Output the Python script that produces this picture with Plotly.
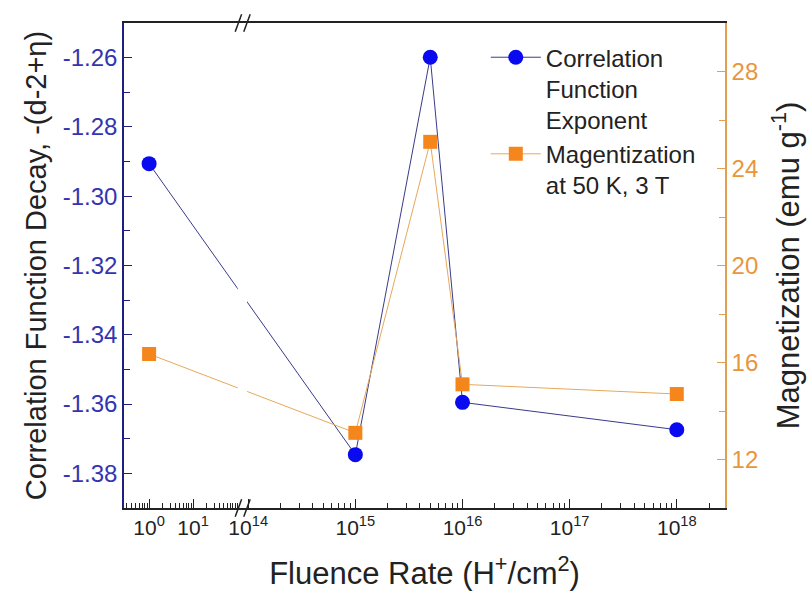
import numpy as np
import plotly.graph_objects as go

# ---------------- data ----------------
fluence = [1.0, 1e15, 5e15, 1e16, 1e18]
corr_exponent = [-1.2906, -1.3746, -1.2599, -1.3595, -1.3674]
magnetization = [16.35, 13.1, 25.1, 15.1, 14.7]
major_tick_exps = [0, 1, 14, 15, 16, 17, 18]
corr_ticks = [-1.38, -1.36, -1.34, -1.32, -1.30, -1.28, -1.26]
mag_ticks = [12, 16, 20, 24, 28]
corr_name = "Correlation<br>Function<br>Exponent"
mag_name = "Magentization<br>at 50 K, 3 T"

# ------------- broken log axis transform -------------
LEFT_SCALE = 0.411      # left segment: decade width relative to right segment
LEFT_OFFSET = -1.925    # position of 10^0 in right-decade units
RIGHT_OFFSET = 15       # 10^15 placed at 0

def xpos(v):
    lg = np.log10(v)
    return LEFT_OFFSET + LEFT_SCALE * lg if lg < 10 else lg - RIGHT_OFFSET

X_MIN = xpos(10 ** -0.57)
X_MAX = xpos(10 ** 18.45)
LEFT_END = xpos(100)
RIGHT_START = xpos(1e14)

major_vals = [xpos(10.0 ** e) for e in major_tick_exps]
major_text = [f"10<sup>{e}</sup>" for e in major_tick_exps]
minor_vals = []
for e in [-1, 0, 1]:
    for m in range(2, 10):
        p = xpos(m * 10.0 ** e)
        if X_MIN <= p <= LEFT_END:
            minor_vals.append(p)
for e in [14, 15, 16, 17, 18]:
    for m in range(2, 10):
        p = xpos(m * 10.0 ** e)
        if RIGHT_START <= p <= X_MAX:
            minor_vals.append(p)
minor_vals.append(xpos(100))

xs = [xpos(v) for v in fluence]

FONT = "Arial, Liberation Sans, sans-serif"
BLUE_AX = "#1f1f80"
BLUE_TXT = "#3434b0"
ORANGE_AX = "#e0a050"
ORANGE_TXT = "#e8963c"

fig = go.Figure()
fig.add_trace(go.Scatter(
    x=xs, y=corr_exponent, name=corr_name, mode="lines+markers",
    line=dict(color="#3a3a8a", width=1),
    marker=dict(symbol="circle", size=15, color="#0a0af0"),
    yaxis="y"))
fig.add_trace(go.Scatter(
    x=xs, y=magnetization, name=mag_name, mode="lines+markers",
    line=dict(color="#e6a85a", width=1),
    marker=dict(symbol="square", size=14, color="#f5861c"),
    yaxis="y2"))

fig.update_layout(
    width=812, height=601,
    margin=dict(l=124, r=87, t=23, b=93),
    plot_bgcolor="white", paper_bgcolor="white",
    font=dict(family=FONT, size=21, color="#222"),
    showlegend=True,
    legend=dict(x=0.602, y=0.975, xanchor="left", yanchor="top",
                bgcolor="rgba(0,0,0,0)", font=dict(size=24, color="#222"),
                valign="top", itemwidth=50, tracegroupgap=0),
    xaxis=dict(
        range=[X_MIN, X_MAX], showgrid=False, zeroline=False,
        showline=True, linecolor="#222", linewidth=1.5, mirror=True,
        tickmode="array", tickvals=major_vals, ticktext=major_text,
        ticks="inside", ticklen=9, tickwidth=1, tickcolor="#222",
        tickfont=dict(size=21, color="#222"),
        minor=dict(tickmode="array", tickvals=minor_vals, ticks="inside",
                   ticklen=5, tickwidth=1, tickcolor="#222"),
        title=dict(text="Fluence Rate (H<sup>+</sup>/cm<sup>2</sup>)",
                   font=dict(size=31, color="#222"), standoff=24),
    ),
    yaxis=dict(
        range=[-1.39, -1.25], showgrid=False, zeroline=False,
        showline=True, linecolor=BLUE_AX, linewidth=1.5,
        tickmode="array", tickvals=corr_ticks,
        ticktext=[f"{v:.2f}" for v in corr_ticks],
        ticks="inside", ticklen=8, tickcolor=BLUE_AX,
        tickfont=dict(size=24, color=BLUE_TXT),
        minor=dict(dtick=0.01, tick0=0, ticks="inside", ticklen=6,
                   tickcolor=BLUE_AX),
        title=dict(text="Correlation Function Decay, -(d-2+η)",
                   font=dict(size=29, color="#222"), standoff=8),
    ),
    yaxis2=dict(
        range=[10, 30], overlaying="y", side="right", showgrid=False,
        zeroline=False, showline=True, linecolor=ORANGE_AX, linewidth=1.5,
        tickmode="array", tickvals=mag_ticks,
        ticks="inside", ticklen=8, tickcolor=ORANGE_AX,
        tickfont=dict(size=24, color=ORANGE_TXT),
        minor=dict(dtick=2, tick0=0, ticks="inside", ticklen=6,
                   tickcolor=ORANGE_AX),
        title=dict(text="Magnetization (emu g<sup>-1</sup>)",
                   font=dict(size=31, color="#222"), standoff=20),
    ),
)

# gap in the data lines across the axis break
fig.add_shape(type="rect", xref="x", yref="paper",
              x0=LEFT_END + 0.005, x1=RIGHT_START - 0.01, y0=0.02, y1=0.985,
              fillcolor="white", line=dict(width=0), layer="above")

# break marks "//" on bottom and top axes
mid = (LEFT_END + RIGHT_START) / 2
for yc in [0.0, 1.0]:
    for dx in [-0.04, 0.04]:
        fig.add_shape(type="line", xref="x", yref="paper",
                      x0=mid + dx - 0.03, x1=mid + dx + 0.03,
                      y0=yc - 0.018, y1=yc + 0.018,
                      line=dict(color="#222", width=1.5), layer="above")

fig.write_html("out.html")
